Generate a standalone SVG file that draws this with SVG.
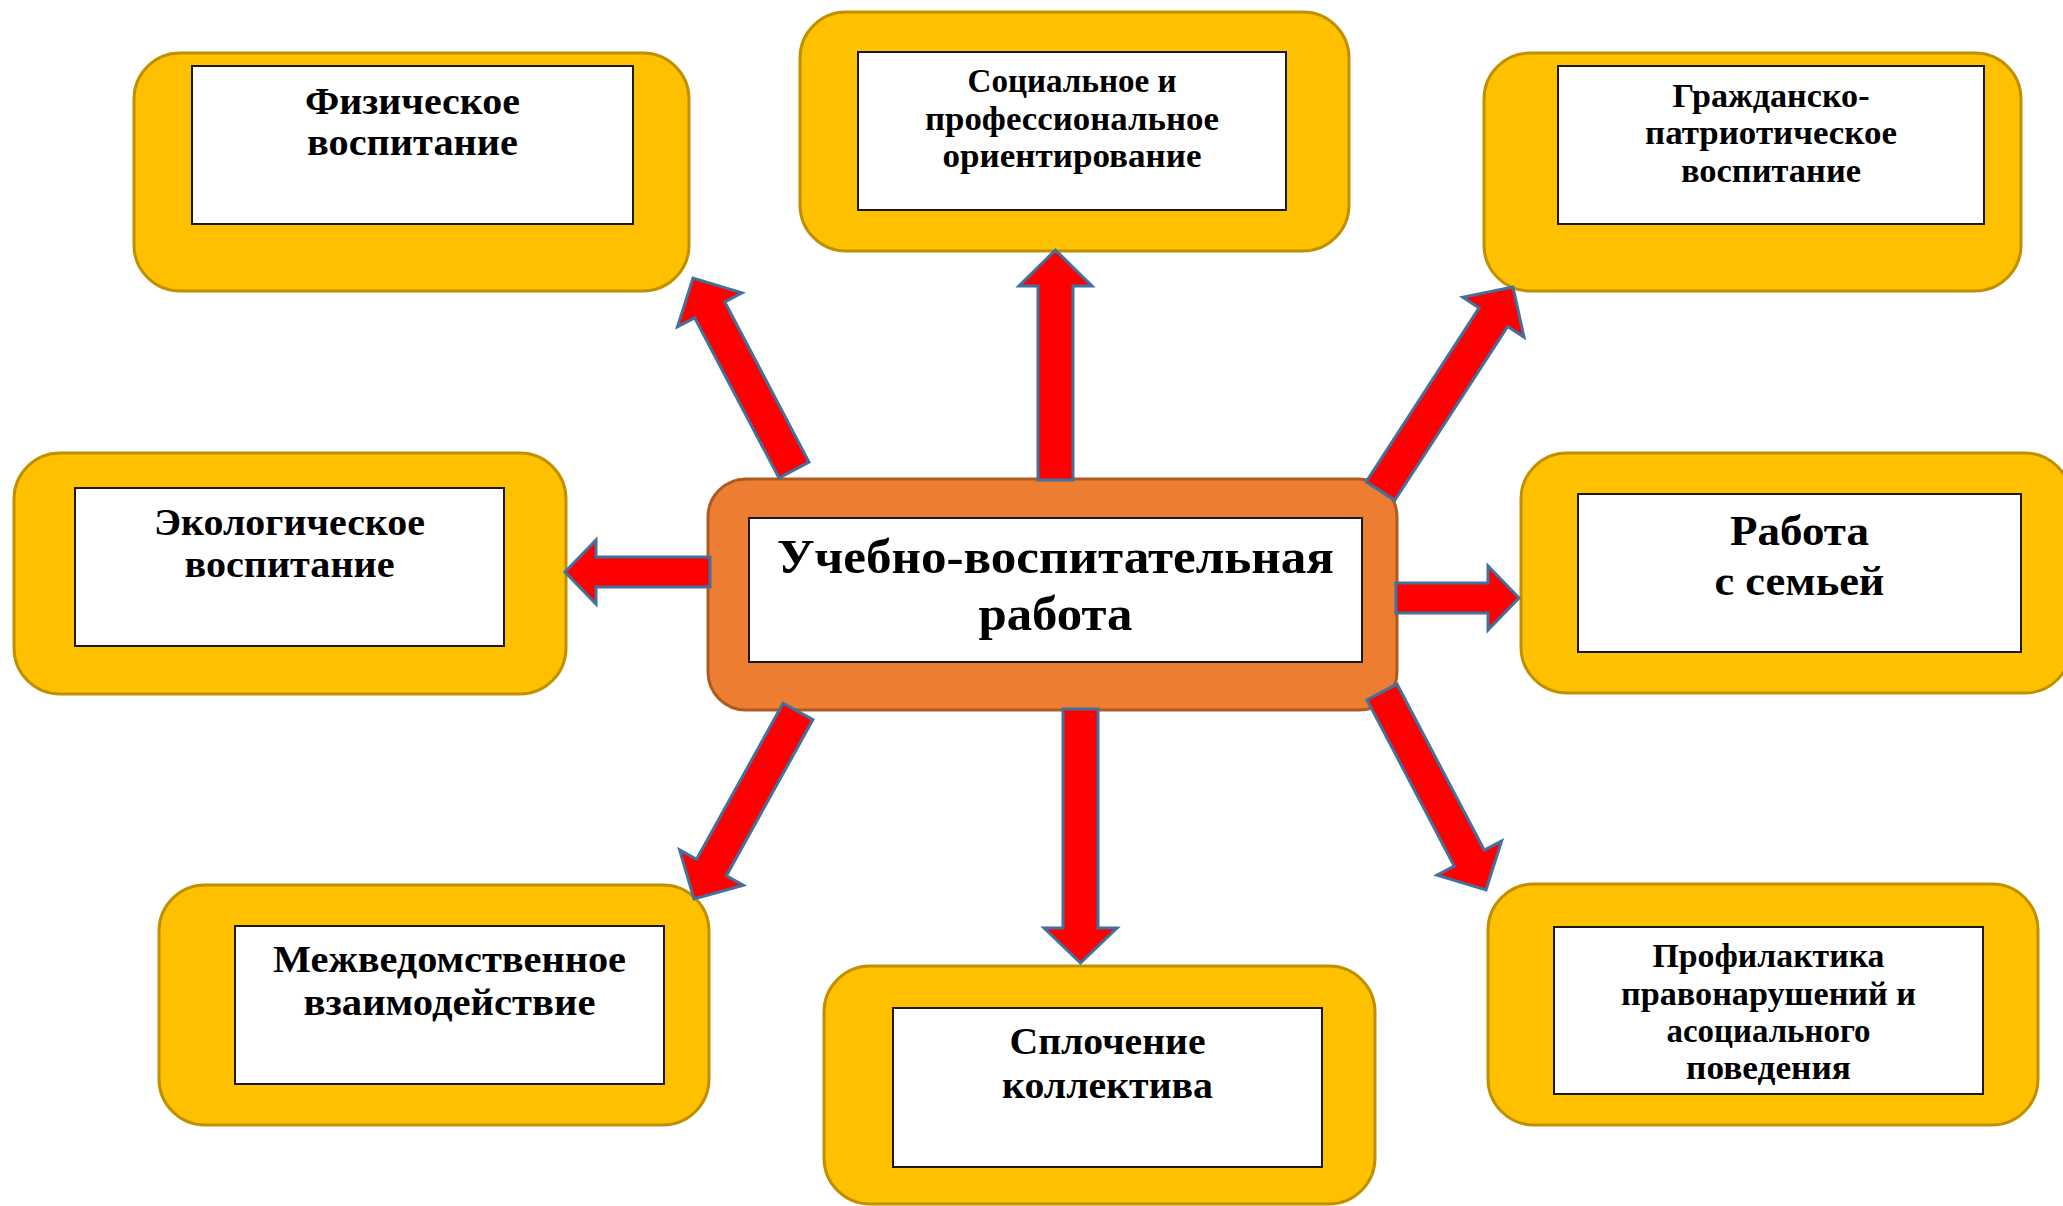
<svg xmlns="http://www.w3.org/2000/svg" width="2063" height="1206" viewBox="0 0 2063 1206">
<style>
.outer{fill:#FFC000;stroke:#BF9000;stroke-width:3}
.core{fill:#ED7D31;stroke:#AE5A21;stroke-width:3}
.inner{fill:#FFFFFF;stroke:#1A1A1A;stroke-width:2}
.arrow{fill:#FF0000;stroke:#41719C;stroke-width:3;stroke-linejoin:miter}
text{font-family:"Liberation Serif","Times New Roman",serif;font-weight:bold;fill:#000;text-anchor:middle}
.t38{font-size:38px}
.t34{font-size:34px}
.t42{font-size:42px}
.t48{font-size:48px}
</style>
<rect width="2063" height="1206" fill="#FFFFFF"/>
<g id="nodes">
<g id="node-fizicheskoe">
<rect class="outer" x="134" y="53" width="555" height="238" rx="46"/>
<rect class="inner" x="192" y="66" width="441" height="158"/>
<text class="t38" x="412.5" y="114" textLength="215" lengthAdjust="spacingAndGlyphs">Физическое</text>
<text class="t38" x="412.5" y="155" textLength="211" lengthAdjust="spacingAndGlyphs">воспитание</text>
</g>
<g id="node-socialnoe">
<rect class="outer" x="800" y="12" width="549" height="239" rx="46"/>
<rect class="inner" x="858" y="52" width="428" height="158"/>
<text class="t34" x="1072" y="92" textLength="209" lengthAdjust="spacingAndGlyphs">Социальное и</text>
<text class="t34" x="1072" y="130" textLength="294" lengthAdjust="spacingAndGlyphs">профессиональное</text>
<text class="t34" x="1072" y="167" textLength="259" lengthAdjust="spacingAndGlyphs">ориентирование</text>
</g>
<g id="node-grazhdansko">
<rect class="outer" x="1484" y="53" width="537" height="238" rx="46"/>
<rect class="inner" x="1558" y="66" width="426" height="158"/>
<text class="t34" x="1771" y="107" textLength="197" lengthAdjust="spacingAndGlyphs">Гражданско-</text>
<text class="t34" x="1771" y="144" textLength="252" lengthAdjust="spacingAndGlyphs">патриотическое</text>
<text class="t34" x="1771" y="182" textLength="180" lengthAdjust="spacingAndGlyphs">воспитание</text>
</g>
<g id="node-ekologicheskoe">
<rect class="outer" x="14" y="453" width="552" height="241" rx="46"/>
<rect class="inner" x="75" y="488" width="429" height="158"/>
<text class="t38" x="289.5" y="535" textLength="271" lengthAdjust="spacingAndGlyphs">Экологическое</text>
<text class="t38" x="289.5" y="577" textLength="210" lengthAdjust="spacingAndGlyphs">воспитание</text>
</g>
<g id="node-center">
<rect class="core" x="708" y="479" width="689" height="231" rx="38"/>
<rect class="inner" x="749" y="518" width="613" height="144"/>
<text class="t48" x="1055.5" y="573" textLength="557" lengthAdjust="spacingAndGlyphs">Учебно-воспитательная</text>
<text class="t48" x="1055.5" y="630" textLength="154" lengthAdjust="spacingAndGlyphs">работа</text>
</g>
<g id="node-semya">
<rect class="outer" x="1521" y="453" width="550" height="240" rx="46"/>
<rect class="inner" x="1578" y="494" width="443" height="158"/>
<text class="t42" x="1799.5" y="545" textLength="139" lengthAdjust="spacingAndGlyphs">Работа</text>
<text class="t42" x="1799.5" y="595" textLength="170" lengthAdjust="spacingAndGlyphs">с семьей</text>
</g>
<g id="node-mezhvedomstvennoe">
<rect class="outer" x="159" y="885" width="550" height="240" rx="46"/>
<rect class="inner" x="235" y="926" width="429" height="158"/>
<text class="t38" x="449.5" y="972" textLength="353" lengthAdjust="spacingAndGlyphs">Межведомственное</text>
<text class="t38" x="449.5" y="1015" textLength="292" lengthAdjust="spacingAndGlyphs">взаимодействие</text>
</g>
<g id="node-splochenie">
<rect class="outer" x="824" y="966" width="551" height="238" rx="46"/>
<rect class="inner" x="893" y="1008" width="429" height="159"/>
<text class="t38" x="1107.5" y="1054" textLength="196" lengthAdjust="spacingAndGlyphs">Сплочение</text>
<text class="t38" x="1107.5" y="1098" textLength="211" lengthAdjust="spacingAndGlyphs">коллектива</text>
</g>
<g id="node-profilaktika">
<rect class="outer" x="1488" y="884" width="550" height="241" rx="46"/>
<rect class="inner" x="1554" y="927" width="429" height="167"/>
<text class="t34" x="1768.5" y="967" textLength="232" lengthAdjust="spacingAndGlyphs">Профилактика</text>
<text class="t34" x="1768.5" y="1005" textLength="295" lengthAdjust="spacingAndGlyphs">правонарушений и</text>
<text class="t34" x="1768.5" y="1042" textLength="204" lengthAdjust="spacingAndGlyphs">асоциального</text>
<text class="t34" x="1768.5" y="1079" textLength="165" lengthAdjust="spacingAndGlyphs">поведения</text>
</g>
</g>
<g id="connectors">
<polygon class="arrow" points="1038,480 1038,286 1019,286 1055.5,250 1092,286 1073,286 1073,480"/>
<polygon class="arrow" points="1063,709 1063,928 1044,928 1080.5,963 1117,928 1098,928 1098,709"/>
<polygon class="arrow" points="710,557 596,557 596,540 565,572 596,604 596,587 710,587"/>
<polygon class="arrow" points="1396,583 1488,583 1488,566 1519,598 1488,630 1488,613 1396,613"/>
<polygon class="arrow" points="809,462.1 724.8,301.9 742,292.9 693,278 677.5,326.8 694.7,317.8 779,477.9"/>
<polygon class="arrow" points="1394.8,500.3 1507.7,326.5 1524,337.1 1513,287 1462.8,297.3 1479.1,307.9 1366.2,481.7"/>
<polygon class="arrow" points="783.1,703.3 696.6,859.3 679.6,849.8 694,899 743.4,885.2 726.4,875.7 812.9,719.7"/>
<polygon class="arrow" points="1367,699.9 1454.2,866 1437,875.1 1486,890 1501.6,841.1 1484.3,850.2 1397,684.1"/>
</g>
</svg>
